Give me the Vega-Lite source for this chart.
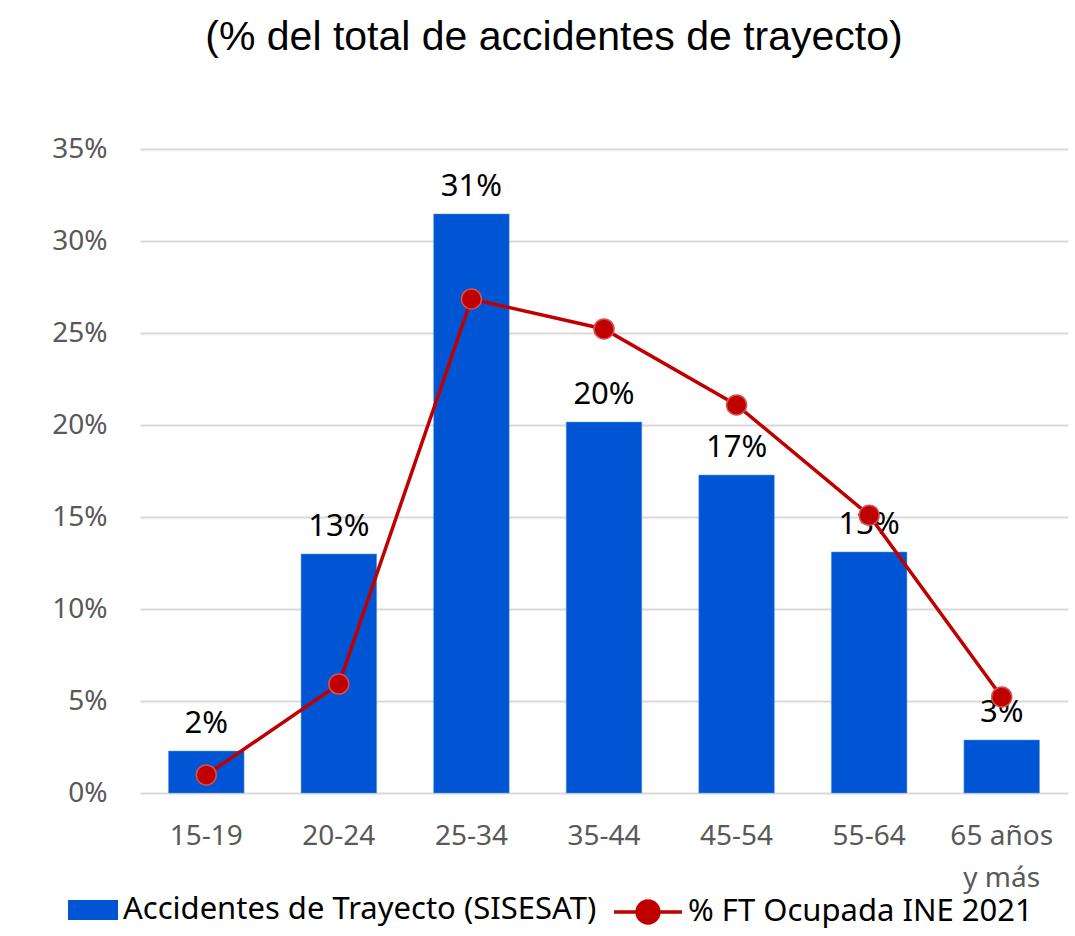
{
  "$schema": "https://vega.github.io/schema/vega-lite/v6.json",
  "autosize": {"type": "none"},
  "width": 928,
  "height": 644,
  "padding": {"left": 140, "top": 149, "right": 7, "bottom": 143},
  "background": "white",
  "view": {"stroke": null},
  "title": {
    "text": "(% del total de accidentes de trayecto)",
    "font": "Liberation Sans",
    "fontSize": 41,
    "fontWeight": "normal",
    "color": "black",
    "anchor": "middle",
    "offset": 76,
    "dx": -50
  },
  "data": {
    "values": [
      {"edad": "15-19", "accidentes": 0.0228, "ft": 0.0098},
      {"edad": "20-24", "accidentes": 0.1299, "ft": 0.0592},
      {"edad": "25-34", "accidentes": 0.3147, "ft": 0.2685},
      {"edad": "35-44", "accidentes": 0.2016, "ft": 0.2522},
      {"edad": "45-54", "accidentes": 0.1728, "ft": 0.2109},
      {"edad": "55-64", "accidentes": 0.1310, "ft": 0.1510},
      {"edad": "65 años y más", "accidentes": 0.0288, "ft": 0.0522}
    ]
  },
  "encoding": {
    "x": {
      "field": "edad",
      "type": "nominal",
      "sort": null,
      "scale": {"paddingInner": 0.43, "paddingOuter": 0.215},
      "axis": {
        "title": null,
        "labelAngle": 0,
        "labelFont": "Noto Sans",
        "labelFontSize": 28,
        "labelColor": "#595959",
        "labelPadding": 29,
        "labelLineHeight": 42,
        "ticks": false,
        "domain": false,
        "grid": false,
        "labelExpr": "datum.value == '65 años y más' ? ['65 años', 'y más'] : datum.value"
      }
    }
  },
  "layer": [
    {
      "mark": {"type": "bar", "stroke": "#5B9BD5", "strokeWidth": 0.5},
      "encoding": {
        "y": {
          "field": "accidentes",
          "type": "quantitative",
          "scale": {"domain": [0, 0.35], "nice": false},
          "axis": {
            "title": null,
            "format": "0%",
            "values": [0, 0.05, 0.1, 0.15, 0.2, 0.25, 0.3, 0.35],
            "labelFont": "Noto Sans",
            "labelFontSize": 28,
            "labelColor": "#595959",
            "labelPadding": 33,
            "ticks": false,
            "domain": false,
            "grid": true,
            "gridColor": "#D9D9D9",
            "gridWidth": 2
          }
        },
        "fill": {
          "datum": "Accidentes de Trayecto (SISESAT)",
          "type": "nominal",
          "scale": {"range": ["#0055D4"]},
          "legend": {
            "title": null,
            "orient": "none",
            "legendX": -72,
            "legendY": 736,
            "padding": 0,
            "labelFont": "Noto Sans",
            "labelFontSize": 31,
            "labelColor": "black",
            "labelLimit": 700,
            "symbolType": "M-1,-0.4H1V0.4H-1Z",
            "symbolSize": 2500,
            "symbolStrokeWidth": 0,
            "labelOffset": 5
          }
        }
      }
    },
    {
      "mark": {"type": "text", "baseline": "bottom", "dy": -11, "font": "Noto Sans", "fontSize": 31, "color": "black"},
      "encoding": {
        "y": {"field": "accidentes", "type": "quantitative"},
        "text": {"field": "accidentes", "type": "quantitative", "format": ".0%"}
      }
    },
    {
      "mark": {"type": "line", "strokeWidth": 3.5},
      "encoding": {
        "y": {"field": "ft", "type": "quantitative"},
        "stroke": {
          "datum": "% FT Ocupada INE 2021",
          "type": "nominal",
          "scale": {"range": ["#C00000"]},
          "legend": {
            "title": null,
            "orient": "none",
            "legendX": 472,
            "legendY": 727,
            "padding": 0,
            "labelFont": "Noto Sans",
            "labelFontSize": 31,
            "labelColor": "black",
            "labelLimit": 700,
            "symbolType": "M-1,0H-0.32M0.32,0H1M0.32,0A0.32,0.32 0 1,1 -0.32,0A0.32,0.32 0 1,1 0.32,0",
            "symbolSize": 4624,
            "symbolFillColor": "#C00000",
            "symbolStrokeWidth": 3.5,
            "labelOffset": 4
          }
        }
      }
    },
    {
      "mark": {"type": "point", "filled": true, "size": 400, "fill": "#C00000", "stroke": "#D65050", "strokeWidth": 1.5, "opacity": 1},
      "encoding": {
        "y": {"field": "ft", "type": "quantitative"}
      }
    }
  ]
}
